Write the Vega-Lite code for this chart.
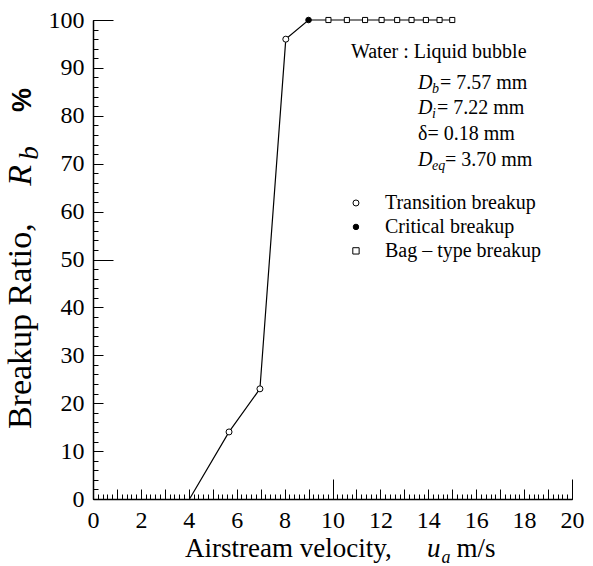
{
  "$schema": "https://vega.github.io/schema/vega-lite/v6.json",
  "width": 479,
  "height": 479,
  "autosize": "none",
  "padding": {"left": 93, "top": 20, "right": 21, "bottom": 67},
  "background": "white",
  "config": {"view": {"stroke": null}, "font": "Liberation Serif, Times New Roman, Times, serif", "text": {"font": "Liberation Serif, Times New Roman, Times, serif", "color": "black"}},
  "resolve": {"axis": {"x": "independent", "y": "independent"}},
  "data": {"values": [
    {"u": 4.03, "r": 0, "type": "none"},
    {"u": 5.68, "r": 14, "type": "Transition breakup"},
    {"u": 6.97, "r": 23, "type": "Transition breakup"},
    {"u": 8.05, "r": 96, "type": "Transition breakup"},
    {"u": 9.0, "r": 100, "type": "Critical breakup"},
    {"u": 9.83, "r": 100, "type": "Bag – type breakup"},
    {"u": 10.6, "r": 100, "type": "Bag – type breakup"},
    {"u": 11.36, "r": 100, "type": "Bag – type breakup"},
    {"u": 12.05, "r": 100, "type": "Bag – type breakup"},
    {"u": 12.7, "r": 100, "type": "Bag – type breakup"},
    {"u": 13.3, "r": 100, "type": "Bag – type breakup"},
    {"u": 13.9, "r": 100, "type": "Bag – type breakup"},
    {"u": 14.47, "r": 100, "type": "Bag – type breakup"},
    {"u": 15.0, "r": 100, "type": "Bag – type breakup"}
  ]},
  "layer": [
    {
      "mark": {"type": "line", "color": "black", "strokeWidth": 1.2},
      "encoding": {
        "x": {"field": "u", "type": "quantitative", "scale": {"domain": [0, 20], "nice": false},
          "axis": {"orient": "bottom", "values": [0,0.2,0.4,0.6,0.8,1,1.2,1.4,1.6,1.8,2,2.2,2.4,2.6,2.8,3,3.2,3.4,3.6,3.8,4,4.2,4.4,4.6,4.8,5,5.2,5.4,5.6,5.8,6,6.2,6.4,6.6,6.8,7,7.2,7.4,7.6,7.8,8,8.2,8.4,8.6,8.8,9,9.2,9.4,9.6,9.8,10,10.2,10.4,10.6,10.8,11,11.2,11.4,11.6,11.8,12,12.2,12.4,12.6,12.8,13,13.2,13.4,13.6,13.8,14,14.2,14.4,14.6,14.8,15,15.2,15.4,15.6,15.8,16,16.2,16.4,16.6,16.8,17,17.2,17.4,17.6,17.8,18,18.2,18.4,18.6,18.8,19,19.2,19.4,19.6,19.8,20],
            "tickSize": -5, "tickColor": "black", "tickWidth": 1, "labels": false, "domain": false, "grid": false, "title": null}},
        "y": {"field": "r", "type": "quantitative", "scale": {"domain": [0, 100], "nice": false},
          "axis": {"orient": "left", "values": [0,2,4,6,8,10,12,14,16,18,20,22,24,26,28,30,32,34,36,38,40,42,44,46,48,50,52,54,56,58,60,62,64,66,68,70,72,74,76,78,80,82,84,86,88,90,92,94,96,98,100],
            "tickSize": -5, "tickColor": "black", "tickWidth": 1, "labels": false, "domain": false, "grid": false, "title": null}}
      }
    },
    {
      "transform": [{"filter": "datum.type !== 'none'"}],
      "mark": {"type": "point", "filled": true, "stroke": "black", "strokeWidth": 1, "opacity": 1},
      "encoding": {
        "x": {"field": "u", "type": "quantitative", "scale": {"domain": [0, 20], "nice": false},
          "axis": {"orient": "bottom", "values": [0,1,2,3,4,5,6,7,8,9,10,11,12,13,14,15,16,17,18,19,20],
            "tickSize": -10, "tickColor": "black", "tickWidth": 1, "labels": false, "domain": false, "grid": false, "title": null}},
        "y": {"field": "r", "type": "quantitative", "scale": {"domain": [0, 100], "nice": false},
          "axis": {"orient": "left", "values": [0,10,20,30,40,50,60,70,80,90,100],
            "tickSize": -10, "tickColor": "black", "tickWidth": 1, "labels": false, "domain": false, "grid": false, "title": null}},
        "shape": {"field": "type", "type": "nominal",
          "scale": {"domain": ["Transition breakup", "Critical breakup", "Bag – type breakup"], "range": ["circle", "circle", "square"]}, "legend": null},
        "fill": {"field": "type", "type": "nominal",
          "scale": {"domain": ["Transition breakup", "Critical breakup", "Bag – type breakup"], "range": ["white", "black", "white"]}, "legend": null},
        "size": {"field": "type", "type": "nominal",
          "scale": {"domain": ["Transition breakup", "Critical breakup", "Bag – type breakup"], "range": [36, 26, 40]}, "legend": null}
      }
    },
    {
      "data": {"values": [{}]},
      "mark": {"type": "text", "text": "Water : Liquid bubble", "fontSize": 20, "align": "left", "baseline": "middle"},
      "encoding": {
        "x": {"datum": 10.77, "type": "quantitative", "scale": {"domain": [0, 20], "nice": false},
          "axis": {"orient": "bottom", "values": [0, 10, 20], "tickSize": -20, "tickColor": "black", "tickWidth": 1, "labels": false, "domain": false, "grid": false, "title": null}},
        "y": {"datum": 93.3, "type": "quantitative", "scale": {"domain": [0, 100], "nice": false},
          "axis": {"orient": "left", "values": [0, 50, 100], "tickSize": -20, "tickColor": "black", "tickWidth": 1, "labels": false, "domain": false, "grid": false, "title": null}}
      }
    },
    {
      "data": {"values": [{}]},
      "mark": {"type": "text", "text": "D", "fontSize": 20, "fontStyle": "italic", "align": "left", "baseline": "middle"},
      "encoding": {
        "x": {"datum": 13.57, "type": "quantitative", "scale": {"domain": [0, 20], "nice": false},
          "axis": {"orient": "bottom", "values": [0,2,4,6,8,10,12,14,16,18,20], "ticks": false, "labelFont": "Liberation Serif, Times New Roman, Times, serif", "labelFontSize": 24, "labelColor": "black", "labelPadding": 9, "labelFlush": false, "labelOverlap": false, "domain": true, "domainColor": "black", "domainWidth": 1.5, "grid": false, "title": null}},
        "y": {"datum": 86.85, "type": "quantitative", "scale": {"domain": [0, 100], "nice": false},
          "axis": {"orient": "left", "values": [0,10,20,30,40,50,60,70,80,90,100], "ticks": false, "labelFont": "Liberation Serif, Times New Roman, Times, serif", "labelFontSize": 24, "labelColor": "black", "labelPadding": 9, "labelFlush": false, "labelOverlap": false, "domain": true, "domainColor": "black", "domainWidth": 1.5, "grid": false, "title": null}}
      }
    },
    {"data": {"values": [{}]}, "mark": {"type": "text", "text": "b", "fontSize": 14, "fontStyle": "italic", "align": "left", "baseline": "middle", "dx": 14, "dy": 6},
      "encoding": {"x": {"datum": 13.57, "type": "quantitative", "axis": null}, "y": {"datum": 86.85, "type": "quantitative", "axis": null}}},
    {"data": {"values": [{}]}, "mark": {"type": "text", "text": "= 7.57 mm", "fontSize": 20, "align": "left", "baseline": "middle", "dx": 22},
      "encoding": {"x": {"datum": 13.57, "type": "quantitative", "axis": null}, "y": {"datum": 86.85, "type": "quantitative", "axis": null}}},
    {"data": {"values": [{}]}, "mark": {"type": "text", "text": "D", "fontSize": 20, "fontStyle": "italic", "align": "left", "baseline": "middle"},
      "encoding": {"x": {"datum": 13.57, "type": "quantitative", "axis": null}, "y": {"datum": 81.6, "type": "quantitative", "axis": null}}},
    {"data": {"values": [{}]}, "mark": {"type": "text", "text": "i", "fontSize": 14, "fontStyle": "italic", "align": "left", "baseline": "middle", "dx": 14, "dy": 6},
      "encoding": {"x": {"datum": 13.57, "type": "quantitative", "axis": null}, "y": {"datum": 81.6, "type": "quantitative", "axis": null}}},
    {"data": {"values": [{}]}, "mark": {"type": "text", "text": "= 7.22 mm", "fontSize": 20, "align": "left", "baseline": "middle", "dx": 19},
      "encoding": {"x": {"datum": 13.57, "type": "quantitative", "axis": null}, "y": {"datum": 81.6, "type": "quantitative", "axis": null}}},
    {"data": {"values": [{}]}, "mark": {"type": "text", "text": "δ= 0.18 mm", "fontSize": 20, "align": "left", "baseline": "middle"},
      "encoding": {"x": {"datum": 13.57, "type": "quantitative", "axis": null}, "y": {"datum": 76.2, "type": "quantitative", "axis": null}}},
    {"data": {"values": [{}]}, "mark": {"type": "text", "text": "D", "fontSize": 20, "fontStyle": "italic", "align": "left", "baseline": "middle"},
      "encoding": {"x": {"datum": 13.57, "type": "quantitative", "axis": null}, "y": {"datum": 70.8, "type": "quantitative", "axis": null}}},
    {"data": {"values": [{}]}, "mark": {"type": "text", "text": "eq", "fontSize": 14, "fontStyle": "italic", "align": "left", "baseline": "middle", "dx": 14, "dy": 6},
      "encoding": {"x": {"datum": 13.57, "type": "quantitative", "axis": null}, "y": {"datum": 70.8, "type": "quantitative", "axis": null}}},
    {"data": {"values": [{}]}, "mark": {"type": "text", "text": "= 3.70 mm", "fontSize": 20, "align": "left", "baseline": "middle", "dx": 27},
      "encoding": {"x": {"datum": 13.57, "type": "quantitative", "axis": null}, "y": {"datum": 70.8, "type": "quantitative", "axis": null}}},
    {"data": {"values": [{}]}, "mark": {"type": "point", "shape": "circle", "filled": true, "fill": "white", "stroke": "black", "strokeWidth": 1, "size": 36, "opacity": 1},
      "encoding": {"x": {"datum": 10.98, "type": "quantitative", "axis": null}, "y": {"datum": 61.8, "type": "quantitative", "axis": null}}},
    {"data": {"values": [{}]}, "mark": {"type": "point", "shape": "circle", "filled": true, "fill": "black", "stroke": "black", "strokeWidth": 1, "size": 30, "opacity": 1},
      "encoding": {"x": {"datum": 10.98, "type": "quantitative", "axis": null}, "y": {"datum": 56.8, "type": "quantitative", "axis": null}}},
    {"data": {"values": [{}]}, "mark": {"type": "point", "shape": "square", "filled": true, "fill": "white", "stroke": "black", "strokeWidth": 1, "size": 40, "opacity": 1},
      "encoding": {"x": {"datum": 10.98, "type": "quantitative", "axis": null}, "y": {"datum": 51.8, "type": "quantitative", "axis": null}}},
    {"data": {"values": [{}]}, "mark": {"type": "text", "text": "Transition breakup", "fontSize": 20, "align": "left", "baseline": "middle"},
      "encoding": {"x": {"datum": 12.19, "type": "quantitative", "axis": null}, "y": {"datum": 61.8, "type": "quantitative", "axis": null}}},
    {"data": {"values": [{}]}, "mark": {"type": "text", "text": "Critical breakup", "fontSize": 20, "align": "left", "baseline": "middle"},
      "encoding": {"x": {"datum": 12.19, "type": "quantitative", "axis": null}, "y": {"datum": 56.8, "type": "quantitative", "axis": null}}},
    {"data": {"values": [{}]}, "mark": {"type": "text", "text": "Bag – type breakup", "fontSize": 20, "align": "left", "baseline": "middle"},
      "encoding": {"x": {"datum": 12.19, "type": "quantitative", "axis": null}, "y": {"datum": 51.8, "type": "quantitative", "axis": null}}},
    {"data": {"values": [{}]}, "mark": {"type": "text", "text": "Airstream velocity,", "fontSize": 27, "align": "left", "baseline": "alphabetic"},
      "encoding": {"x": {"datum": 3.84, "type": "quantitative", "axis": null}, "y": {"datum": -12.1, "type": "quantitative", "axis": null}}},
    {"data": {"values": [{}]}, "mark": {"type": "text", "text": "u", "fontSize": 27, "fontStyle": "italic", "align": "left", "baseline": "alphabetic"},
      "encoding": {"x": {"datum": 13.95, "type": "quantitative", "axis": null}, "y": {"datum": -12.1, "type": "quantitative", "axis": null}}},
    {"data": {"values": [{}]}, "mark": {"type": "text", "text": "a", "fontSize": 18, "fontStyle": "italic", "align": "left", "baseline": "alphabetic", "dy": 6},
      "encoding": {"x": {"datum": 14.55, "type": "quantitative", "axis": null}, "y": {"datum": -12.1, "type": "quantitative", "axis": null}}},
    {"data": {"values": [{}]}, "mark": {"type": "text", "text": "m/s", "fontSize": 27, "align": "left", "baseline": "alphabetic"},
      "encoding": {"x": {"datum": 15.18, "type": "quantitative", "axis": null}, "y": {"datum": -12.1, "type": "quantitative", "axis": null}}},
    {"data": {"values": [{}]}, "mark": {"type": "text", "text": "Breakup Ratio,", "fontSize": 34, "angle": 270, "align": "left", "baseline": "alphabetic"},
      "encoding": {"x": {"datum": -2.59, "type": "quantitative", "axis": null}, "y": {"datum": 14.6, "type": "quantitative", "axis": null}}},
    {"data": {"values": [{}]}, "mark": {"type": "text", "text": "R", "fontSize": 34, "fontStyle": "italic", "angle": 270, "align": "left", "baseline": "alphabetic"},
      "encoding": {"x": {"datum": -2.59, "type": "quantitative", "axis": null}, "y": {"datum": 65.4, "type": "quantitative", "axis": null}}},
    {"data": {"values": [{}]}, "mark": {"type": "text", "text": "b", "fontSize": 27, "fontStyle": "italic", "angle": 270, "align": "left", "baseline": "alphabetic", "dy": 7},
      "encoding": {"x": {"datum": -2.59, "type": "quantitative", "axis": null}, "y": {"datum": 70.8, "type": "quantitative", "axis": null}}},
    {"data": {"values": [{}]}, "mark": {"type": "text", "text": "%", "font": "Liberation Sans, Arial, sans-serif", "fontWeight": "bold", "fontSize": 27, "angle": 270, "align": "left", "baseline": "alphabetic"},
      "encoding": {"x": {"datum": -2.59, "type": "quantitative", "axis": null}, "y": {"datum": 80.8, "type": "quantitative", "axis": null}}}
  ]
}
